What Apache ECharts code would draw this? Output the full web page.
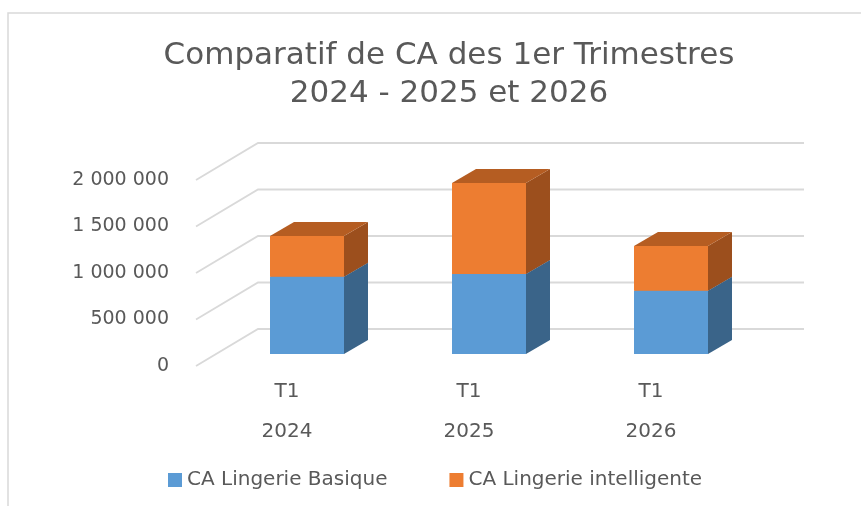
<!DOCTYPE html>
<html>
<head>
<meta charset="utf-8">
<script src="https://cdn.jsdelivr.net/npm/echarts@6/dist/echarts.min.js"></script>
<style>
html, body { margin: 0; padding: 0; background: #fff; }
#chart { width: 861px; height: 506px; }
</style>
</head>
<body>
<div id="chart"></div>
<script>
// données
var years = ['2024', '2025', '2026'];
var quarter = 'T1';
var caBasique = [830000, 860000, 680000];
var caIntelligente = [440000, 980000, 480000];
var yTicks = [0, 500000, 1000000, 1500000, 2000000];
var seriesNames = ['CA Lingerie Basique', 'CA Lingerie intelligente'];

var FONT = 'DejaVu Sans';
var TXT = '#595959';
// décalages "3D" en pixels
var WALL_DX = 62, WALL_DY = -37;
var BAR_DX = 20, BAR_DY = -12;
var DEPTH_DX = 24, DEPTH_DY = -14;
var BAR_W = 74;

var chart = echarts.init(document.getElementById('chart'));

function fmt(v) {
    return String(v).replace(/\B(?=(\d{3})+(?!\d))/g, ' ');
}

function barRender(front, side, top) {
    return function (params, api) {
        var i = api.value(0);
        var p0 = api.coord([i, api.value(1)]);
        var p1 = api.coord([i, api.value(2)]);
        var x0 = p0[0] + BAR_DX - BAR_W / 2, x1 = x0 + BAR_W;
        var yb = p0[1] + BAR_DY, yt = p1[1] + BAR_DY;
        return {
            type: 'group',
            children: [
                { type: 'polygon', shape: { points: [[x0, yb], [x1, yb], [x1, yt], [x0, yt]] }, style: { fill: front } },
                { type: 'polygon', shape: { points: [[x1, yb], [x1 + DEPTH_DX, yb + DEPTH_DY], [x1 + DEPTH_DX, yt + DEPTH_DY], [x1, yt]] }, style: { fill: side } },
                { type: 'polygon', shape: { points: [[x0, yt], [x1, yt], [x1 + DEPTH_DX, yt + DEPTH_DY], [x0 + DEPTH_DX, yt + DEPTH_DY]] }, style: { fill: top } }
            ]
        };
    };
}

function gridRender(params, api) {
    var cs = params.coordSys;
    var y = api.coord([0, api.value(1)])[1];
    var l = cs.x, r = cs.x + cs.width;
    return {
        type: 'polyline',
        shape: { points: [[l, y], [l + WALL_DX, y + WALL_DY], [r + WALL_DX, y + WALL_DY]] },
        style: { stroke: '#d9d9d9', lineWidth: 1.8, fill: null }
    };
}

var basiqueData = caBasique.map(function (v, i) { return [i, 0, v]; });
var intelData = caIntelligente.map(function (v, i) { return [i, caBasique[i], caBasique[i] + v]; });
var tickData = yTicks.map(function (v) { return [0, v]; });

function getOption() {
    return {
        color: ['#5B9BD5', '#ED7D31'],
        animation: false,
        title: {
            text: 'Comparatif de CA des 1er Trimestres\n2024 - 2025 et 2026',
            left: 444,
            top: 32,
            textAlign: 'center',
            textStyle: {
                fontFamily: FONT,
                fontSize: 31,
                fontWeight: 'normal',
                color: TXT,
                lineHeight: 38
            }
        },
        legend: {
            data: seriesNames,
            left: 163,
            top: 465,
            itemWidth: 14,
            itemHeight: 14,
            itemGap: 62,
            icon: 'rect',
            textStyle: { fontFamily: FONT, fontSize: 20, color: TXT }
        },
        graphic: [{
            type: 'rect',
            shape: { x: 8, y: 13, width: 900, height: 600 },
            style: { fill: null, stroke: '#d9d9d9', lineWidth: 1.5 },
            silent: true
        }],
        grid: {
            left: 196,
            right: 119,
            top: 180,
            bottom: 140
        },
        xAxis: {
            type: 'category',
            data: years,
            axisLine: { show: false },
            axisTick: { show: false },
            axisLabel: {
                margin: 6,
                formatter: function (v) { return quarter + '\n' + v; },
                fontFamily: FONT,
                fontSize: 20,
                lineHeight: 40,
                color: TXT
            }
        },
        yAxis: {
            type: 'value',
            min: 0,
            max: 2000000,
            interval: 500000,
            axisLine: { show: false },
            axisTick: { show: false },
            splitLine: { show: false },
            axisLabel: {
                margin: 27,
                formatter: fmt,
                fontFamily: FONT,
                fontSize: 19,
                color: TXT
            }
        },
        series: [
            {
                type: 'custom',
                silent: true,
                renderItem: gridRender,
                data: tickData,
                z: 1
            },
            {
                name: seriesNames[0],
                type: 'custom',
                renderItem: barRender('#5B9BD5', '#3A6489', '#4A7FAF'),
                itemStyle: { color: '#5B9BD5' },
                encode: { x: 0, y: [1, 2] },
                data: basiqueData,
                z: 2
            },
            {
                name: seriesNames[1],
                type: 'custom',
                renderItem: barRender('#ED7D31', '#9C4F1D', '#B55D22'),
                itemStyle: { color: '#ED7D31' },
                encode: { x: 0, y: [1, 2] },
                data: intelData,
                z: 3
            }
        ]
    };
}

chart.setOption(getOption());
window.addEventListener('resize', function () { chart.resize(); });
</script>
</body>
</html>
